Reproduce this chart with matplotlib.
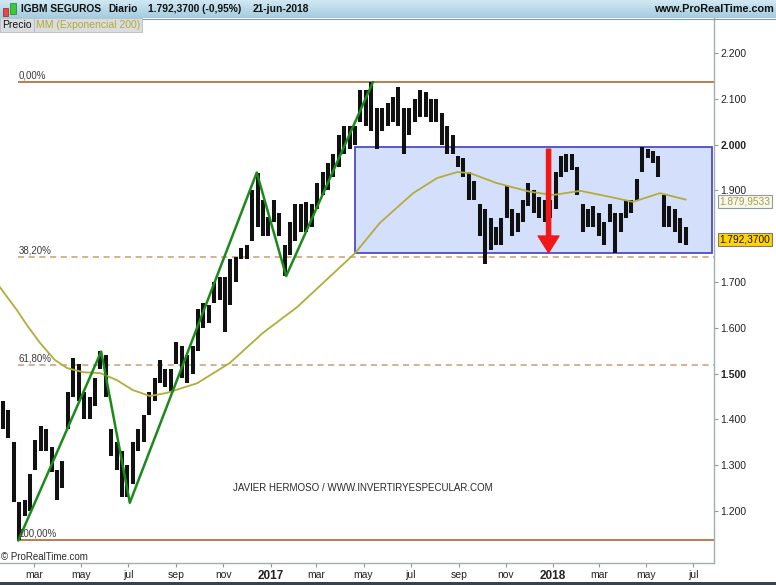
import matplotlib
matplotlib.use("Agg")
import matplotlib.pyplot as plt
import matplotlib.dates as mdates
import matplotlib.transforms as mtransforms
from matplotlib.patches import Rectangle
import numpy as np
import pandas as pd

plt.rcParams["font.family"] = ["Liberation Sans", "DejaVu Sans"]

W, H = 776, 585

# weekly low / high (weeks start on Monday)
first_week = "2016-01-18"
week_low = [
    1.38, 1.36, 1.22, 1.136, 1.19, 1.20, 1.29, 1.33, 1.33, 1.285,
    1.225, 1.25, 1.38, 1.45, 1.44, 1.40, 1.40, 1.43, 1.51, 1.45,
    1.32, 1.29, 1.23, 1.23, 1.26, 1.33, 1.35, 1.41, 1.44, 1.48,
    1.47, 1.46, 1.52, 1.49, 1.48, 1.50, 1.55, 1.60, 1.61, 1.655,
    1.66, 1.59, 1.65, 1.70, 1.75, 1.75, 1.79, 1.82, 1.80, 1.80,
    1.83, 1.80, 1.713, 1.76, 1.79, 1.81, 1.81, 1.82, 1.86, 1.89,
    1.90, 1.93, 1.95, 1.98, 1.99, 2.00, 2.05, 2.04, 2.03, 1.99,
    2.03, 2.04, 2.05, 2.04, 1.98, 2.02, 2.05, 2.06, 2.06, 2.05,
    2.05, 2.00, 1.98, 1.98, 1.95, 1.93, 1.88, 1.88, 1.80, 1.74,
    1.77, 1.78, 1.78, 1.84, 1.80, 1.81, 1.83, 1.865, 1.85, 1.84,
    1.83, 1.84, 1.86, 1.93, 1.94, 1.945, 1.89, 1.81, 1.82, 1.82,
    1.80, 1.78, 1.83, 1.763, 1.81, 1.84, 1.85, 1.88, 1.94, 1.97,
    1.96, 1.93, 1.82, 1.82, 1.81, 1.785, 1.78,
]
week_high = [
    1.44, 1.42, 1.35, 1.22, 1.225, 1.28, 1.355, 1.385, 1.38, 1.34,
    1.29, 1.31, 1.46, 1.535, 1.52, 1.46, 1.45, 1.49, 1.55, 1.54,
    1.38, 1.35, 1.33, 1.30, 1.35, 1.38, 1.41, 1.46, 1.49, 1.53,
    1.51, 1.51, 1.57, 1.56, 1.54, 1.56, 1.64, 1.655, 1.65, 1.70,
    1.71, 1.71, 1.75, 1.755, 1.775, 1.78, 1.90, 1.938, 1.88, 1.842,
    1.88, 1.85, 1.78, 1.83, 1.87, 1.87, 1.875, 1.87, 1.916, 1.94,
    1.96, 1.98, 2.02, 2.04, 2.04, 2.04, 2.12, 2.12, 2.136, 2.08,
    2.08, 2.09, 2.105, 2.125, 2.08, 2.08, 2.10, 2.12, 2.115, 2.10,
    2.10, 2.07, 2.04, 2.02, 1.975, 1.97, 1.94, 1.92, 1.87, 1.86,
    1.84, 1.82, 1.84, 1.91, 1.86, 1.85, 1.88, 1.916, 1.90, 1.886,
    1.88, 1.88, 1.94, 1.975, 1.98, 1.98, 1.95, 1.87, 1.86, 1.865,
    1.85, 1.83, 1.87, 1.85, 1.85, 1.88, 1.88, 1.925, 1.995, 1.99,
    1.985, 1.975, 1.89, 1.865, 1.86, 1.84, 1.82,
]

# MM (Exponencial 200)
ema_dates = [
    "2016-01-17", "2016-02-08", "2016-02-21", "2016-03-09", "2016-03-28",
    "2016-04-13", "2016-05-04", "2016-05-26", "2016-06-16", "2016-07-07",
    "2016-07-29", "2016-08-20", "2016-09-28", "2016-11-09", "2016-12-22",
    "2017-02-04", "2017-03-18", "2017-04-20", "2017-05-22", "2017-07-04",
    "2017-08-04", "2017-08-30", "2017-09-15", "2017-10-20", "2017-12-02",
    "2018-01-01", "2018-02-05", "2018-03-15", "2018-04-14", "2018-05-19",
    "2018-06-21",
]
ema_values = [
    1.689, 1.639, 1.606, 1.567, 1.530,
    1.512, 1.503, 1.501, 1.486, 1.464,
    1.451, 1.458, 1.479, 1.523, 1.589,
    1.645, 1.711, 1.763, 1.829, 1.894,
    1.927, 1.940, 1.938, 1.916, 1.897,
    1.890, 1.899, 1.886, 1.875, 1.894,
    1.880,
]

zigzag_dates = ["2016-02-10", "2016-05-27", "2016-07-03",
                "2016-12-14", "2017-01-21", "2017-05-13"]
zigzag_prices = [1.136, 1.548, 1.218, 1.939, 1.713, 2.136]

fib_high, fib_low = 2.136, 1.136
fib_levels = [0.0, 0.382, 0.618, 1.0]
fib_labels = ["0,00%", "38,20%", "61,80%", "100,00%"]

box_start, box_end = "2017-04-20", "2018-07-25"
box_top, box_bottom = 1.995, 1.764

arrow_date = "2017-12-26"
arrow_from, arrow_to = 1.99, 1.764

last_price, last_price_txt = 1.7924, "1.792,3700"
last_ema, last_ema_txt = 1.880, "1.879,9533"

price_ticks = [1.2, 1.3, 1.4, 1.5, 1.6, 1.7, 1.9, 2.0, 2.1, 2.2]
month_ticks = ["2016-03-01", "2016-05-01", "2016-07-01", "2016-09-01",
               "2016-11-01", "2017-01-01", "2017-03-01", "2017-05-01",
               "2017-07-01", "2017-09-01", "2017-11-01", "2018-01-01",
               "2018-03-01", "2018-05-01", "2018-07-01"]
month_labels = ["mar", "may", "jul", "sep", "nov", "2017", "mar", "may",
                "jul", "sep", "nov", "2018", "mar", "may", "jul"]

header_parts = [("IGBM SEGUROS", 21), ("Diario", 108), ("1.792,3700 (-0,95%)", 148),
                ("21-jun-2018", 253)]


def fx(px):
    return px / W


def fy(py):
    return 1 - py / H


fig = plt.figure(figsize=(W / 100, H / 100), dpi=100)
fig.patch.set_facecolor("white")

# header bar
hax = fig.add_axes([0, fy(18), 1, 18 / H])
grad = np.linspace(0, 1, 50).reshape(-1, 1)
top_c = np.array([0.82, 0.91, 0.95])
bot_c = np.array([0.64, 0.80, 0.88])
img = top_c + grad[..., None] * (bot_c - top_c)
hax.imshow(img, aspect="auto", extent=[0, 1, 0, 1])
hax.axis("off")
fig.add_artist(plt.Line2D([0, 1], [fy(18.5)] * 2, color="#8a9ba5", lw=0.8))

# little candle icon
fig.add_artist(Rectangle((fx(3), fy(16)), fx(5), 8 / H, fc="#e24a4a", ec="#a02020", lw=0.5))
fig.add_artist(Rectangle((fx(10), fy(14)), fx(6), 11 / H, fc="#3cc83c", ec="#208020", lw=0.5))
for txt, xpos in header_parts:
    fig.text(fx(xpos), fy(9.5), txt, fontsize=7.4, fontweight="bold",
             va="center", ha="left", color="#111111")
fig.text(fx(774), fy(9.5), "www.ProRealTime.com", fontsize=7.8, fontweight="bold",
         va="center", ha="right", color="#111111")

# main price panel
ax = fig.add_axes([0, fy(563), fx(714), (563 - 18) / H])
jan17 = mdates.date2num(pd.Timestamp("2017-01-01"))
ax.set_xlim(jan17 - 349.7, jan17 + 572.7)
ax.set_ylim(1.0865, 2.2764)

weeks = pd.date_range(first_week, periods=len(week_low), freq="7D")
ax.vlines(weeks + pd.Timedelta(days=3), week_low, week_high,
          color="#111111", lw=2.9, zorder=3)

ax.add_patch(Rectangle((mdates.date2num(pd.Timestamp(box_start)), box_bottom),
                       mdates.date2num(pd.Timestamp(box_end)) - mdates.date2num(pd.Timestamp(box_start)),
                       box_top - box_bottom, fc="#d4e0fb", ec="#4d4dc4", lw=1.3, zorder=1))

ax.plot(pd.to_datetime(ema_dates), ema_values, color="#b4ac3a", lw=1.3, zorder=4)
ax.plot(pd.to_datetime(zigzag_dates), zigzag_prices, color="#1b8a1b", lw=1.8, zorder=5)

fib_start = pd.Timestamp(zigzag_dates[0])
x_right = mdates.num2date(ax.get_xlim()[1])
for lev, lab in zip(fib_levels, fib_labels):
    price = fib_high - lev * (fib_high - fib_low)
    solid = lev in (0.0, 1.0)
    ax.hlines(price, fib_start, x_right,
              color="#a85a22" if solid else "#c99c74",
              lw=1.1, linestyles="solid" if solid else (0, (4, 3)), zorder=2)
    ax.annotate(lab, (fib_start, price), xytext=(0, 1.5), textcoords="offset points",
                fontsize=7, color="#3a3a3a", va="bottom", ha="left", zorder=6)

ax.annotate("", xy=(pd.Timestamp(arrow_date), arrow_to),
            xytext=(pd.Timestamp(arrow_date), arrow_from),
            arrowprops=dict(arrowstyle="simple,head_length=1.2,head_width=1.5,tail_width=0.3",
                            color="#f01818", mutation_scale=10, shrinkA=0, shrinkB=0),
            zorder=7)

ax.text(0.508, 0.1376, "JAVIER HERMOSO / WWW.INVERTIRYESPECULAR.COM",
        transform=ax.transAxes, fontsize=7, color="#2a2a2a", ha="center", va="center")
ax.text(0.002, 0.011, "\u00a9 ProRealTime.com", transform=ax.transAxes,
        fontsize=7, color="#2a2a2a", ha="left", va="center")

# axes styling
for s in ["left", "top"]:
    ax.spines[s].set_visible(False)
for s in ["right", "bottom"]:
    ax.spines[s].set_color("#a3adb4")
    ax.spines[s].set_linewidth(1.0)

ax.yaxis.tick_right()
ax.set_yticks(price_ticks)
ax.set_yticklabels([f"{v:.3f}" for v in price_ticks])
ax.tick_params(axis="y", length=3, width=0.8, color="#8d979e", pad=1.5,
               labelsize=7.5, labelcolor="#222222")
for lbl in ax.get_yticklabels():
    if lbl.get_text() in ("2.000", "1.500"):
        lbl.set_fontweight("bold")

ax.set_xticks(pd.to_datetime(month_ticks))
ax.set_xticklabels(month_labels)
ax.tick_params(axis="x", length=3, width=0.8, color="#8d979e", pad=2,
               labelsize=7.5, labelcolor="#222222")
for lbl in ax.get_xticklabels():
    if lbl.get_text().isdigit():
        lbl.set_fontweight("bold")
        lbl.set_fontsize(8.5)

# last value boxes on the price scale
blend = mtransforms.blended_transform_factory(ax.transAxes, ax.transData)
ax.text(1.008, last_ema - 0.004, last_ema_txt, transform=blend, fontsize=7.3, color="#a8a032",
        va="center", ha="left", clip_on=False, zorder=10,
        bbox=dict(boxstyle="square,pad=0.12", fc="#f7f7f2", ec="#8f9ca3", lw=0.8))
ax.text(1.008, last_price, last_price_txt, transform=blend, fontsize=7.3, color="#111111",
        va="center", ha="left", clip_on=False, zorder=10,
        bbox=dict(boxstyle="square,pad=0.12", fc="#ffd400", ec="#7a7a7a", lw=0.8))

# legend tabs under the header
fig.text(fx(2), fy(25), "Precio", fontsize=7.5, color="#111111", va="center", ha="left",
         bbox=dict(boxstyle="square,pad=0.2", fc="#d9dde0", ec="#b5bcc1", lw=0.6))
fig.text(fx(36), fy(25), "MM (Exponencial 200)", fontsize=7.5, color="#b3aa34",
         va="center", ha="left",
         bbox=dict(boxstyle="square,pad=0.2", fc="#d9dde0", ec="#b5bcc1", lw=0.6))

# dark strip at the bottom
fig.add_artist(Rectangle((0, 0), 1, 3 / H, fc="#37434b", ec="none"))

fig.savefig("out.png", dpi=100)
